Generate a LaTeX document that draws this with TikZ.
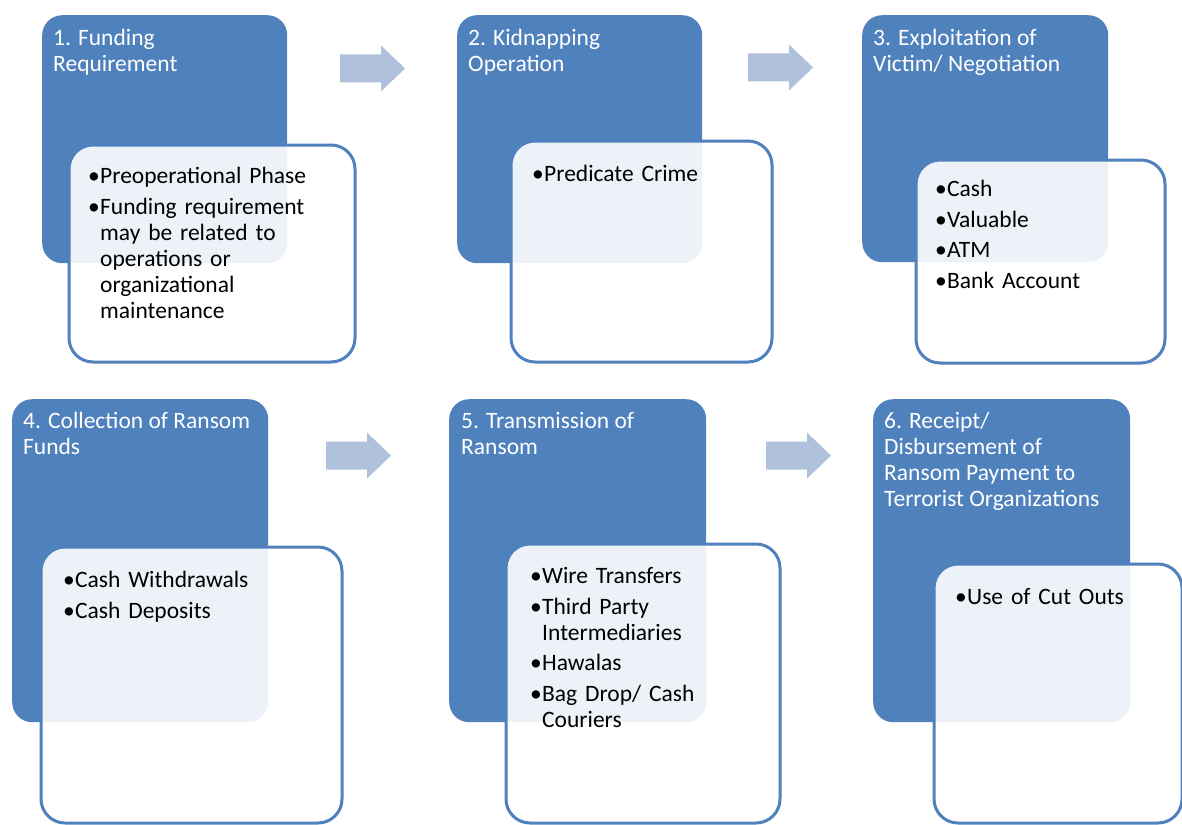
\documentclass[tikz,border=0pt]{standalone}
\usepackage{fontspec}
\setmainfont{Carlito}
\definecolor{blu}{HTML}{4F81BD}
\definecolor{arr}{HTML}{B0C1DC}
\newlength\itemgap
\setlength\itemgap{4.5pt}
\newcommand\bul[1]{\par\hangindent=12pt\hangafter=1\noindent\makebox[12pt][l]{\textbullet}\strut#1\par}
\tikzset{
  bluebox/.style={fill=blu, rounded corners=20pt, anchor=north west, inner sep=0pt, draw=none},
  whitebox/.style={draw=blu, line width=3pt, fill=white, fill opacity=0.9, draw opacity=1, rounded corners=24pt, anchor=north west, inner sep=0pt},
  titletxt/.style={anchor=north west, inner sep=0pt, text=white, align=left, font=\fontsize{23.5}{26}\selectfont},
  bodytxt/.style={anchor=north west, inner sep=0pt, text=black, text width=260pt, font=\fontsize{23.5}{26}\selectfont},
  blockarr/.pic={\fill[arr] (0,-14)--(41,-14)--(41,-23)--(65,0)--(41,23)--(41,14)--(0,14)--cycle;}
}
\begin{document}
\begin{tikzpicture}[x=1pt,y=-1pt]
\path[fill=white] (0,0) rectangle (1182,824);
\useasboundingbox (0,0) rectangle (1182,824);

% row 1
\node[bluebox, minimum width=245pt, minimum height=248pt] (b1) at (42,15) {};
\node[whitebox, minimum width=286pt, minimum height=217pt] (w1) at (67.5,143.5) {};
\node[titletxt] (t1) at (53,27.3) {\strut 1. Funding\\Requirement};
\node[bodytxt] (x1) at (88,153) {\raggedright\setlength\parskip{\itemgap}\bul{Preoperational Phase}\bul{Funding requirement\newline may be related to\newline operations or\newline organizational\newline maintenance}};

\node[bluebox, minimum width=245pt, minimum height=248pt] (b2) at (457,15) {};
\node[whitebox, minimum width=261pt, minimum height=221pt] (w2) at (509.5,139.5) {};
\node[titletxt] (t2) at (468,27.3) {\strut 2. Kidnapping\\Operation};
\node[bodytxt] (x2) at (532,151) {\raggedright\setlength\parskip{\itemgap}\bul{Predicate Crime}};

\node[bluebox, minimum width=246pt, minimum height=247pt] (b3) at (862,15) {};
\node[whitebox, minimum width=249pt, minimum height=203pt] (w3) at (914.5,158.5) {};
\node[titletxt] (t3) at (873,27.3) {\strut 3. Exploitation of\\Victim/ Negotiation};
\node[bodytxt] (x3) at (935,166) {\raggedright\setlength\parskip{\itemgap}\bul{Cash}\bul{Valuable}\bul{ATM}\bul{Bank Account}};

\pic at (340,68.5) {blockarr};
\pic at (748,67.5) {blockarr};

% row 2
\node[bluebox, minimum width=256pt, minimum height=323pt] (b4) at (12,399) {};
\node[whitebox, minimum width=301pt, minimum height=276pt] (w4) at (39.5,545.5) {};
\node[titletxt] (t4) at (23,410.3) {\strut 4. Collection of Ransom\\Funds};
\node[bodytxt] (x4) at (63,557) {\raggedright\setlength\parskip{\itemgap}\bul{Cash Withdrawals}\bul{Cash Deposits}};

\node[bluebox, minimum width=257pt, minimum height=323pt] (b5) at (449,399) {};
\node[whitebox, minimum width=274pt, minimum height=279pt] (w5) at (504.5,542.5) {};
\node[titletxt] (t5) at (461,410.3) {\strut 5. Transmission of\\Ransom};
\node[bodytxt] (x5) at (530,553) {\raggedright\setlength\parskip{\itemgap}\bul{Wire Transfers}\bul{Third Party\newline Intermediaries}\bul{Hawalas}\bul{Bag Drop/ Cash\newline Couriers}};

\node[bluebox, minimum width=257pt, minimum height=323pt] (b6) at (873,399) {};
\node[whitebox, minimum width=248pt, minimum height=259pt] (w6) at (932.5,562.5) {};
\node[titletxt] (t6) at (884,410.3) {\strut 6. Receipt/\\Disbursement of\\Ransom Payment to\\Terrorist Organizations};
\node[bodytxt] (x6) at (955,574) {\raggedright\setlength\parskip{\itemgap}\bul{Use of Cut Outs}};

\pic at (326,455.5) {blockarr};
\pic at (766,455.5) {blockarr};
\end{tikzpicture}
\end{document}
